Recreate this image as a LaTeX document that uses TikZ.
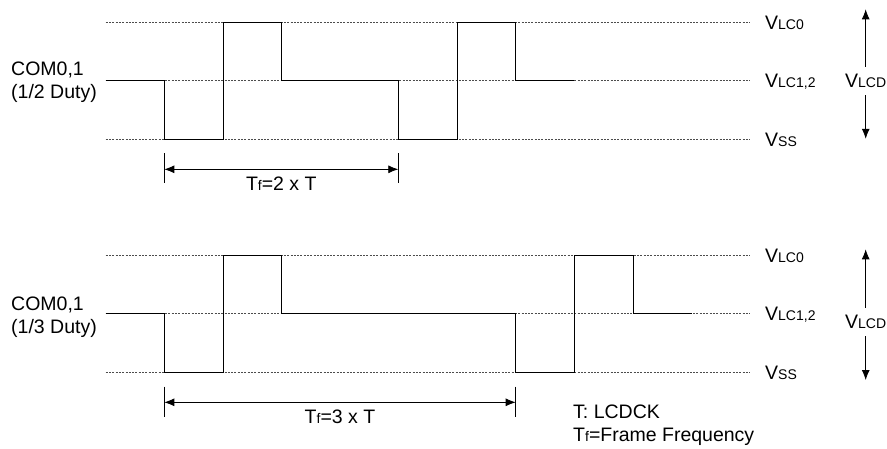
\documentclass[tikz,border=0pt]{standalone}
\usepackage{fontspec}
\setmainfont{Liberation Sans}
\usetikzlibrary{arrows.meta}
\newcommand{\lowtxt}[1]{{\fontsize{14}{14}\selectfont #1}}

\begin{document}
\begin{tikzpicture}[x=1pt,y=-1pt,font=\fontsize{19.5}{23.3}\selectfont]
\definecolor{sqsqsq}{rgb}{0.3,0.3,0.3}
\definecolor{qqqqqq}{rgb}{0,0,0}
\tikzset{
  level/.style={line width=0.7pt,color=sqsqsq,dash pattern=on 2pt off 1.3pt},
  wave/.style={line width=1pt,color=qqqqqq},
  dimline/.style={line width=0.8pt,color=qqqqqq},
  dimarrow/.style={line width=0.8pt,color=qqqqqq,{Latex[length=10pt,width=8pt]}-{Latex[length=10pt,width=8pt]}},
  vlcdarrow/.style={line width=0.8pt,color=qqqqqq,-{Latex[length=10pt,width=8pt]}},
  lvlname/.style={anchor=base west,inner sep=0pt},
  vlcdname/.style={inner xsep=0pt,inner ysep=7.5pt}
}
\useasboundingbox (0,0) rectangle (887,448);
% upper panel: 1/2 duty
\draw [level] (105.7,22.7)-- (750,22.7);
\draw [level] (105.7,80.7)-- (750,80.7);
\draw [level] (105.7,139.3)-- (750,139.3);
\draw [wave] (105.7,80.7)-- (164.3,80.7)-- (164.3,139.3)-- (223,139.3)-- (223,22.7)-- (281.7,22.7)-- (281.7,80.7)-- (398.3,80.7)-- (398.3,139.3)-- (457,139.3)-- (457,22.7)-- (515.7,22.7)-- (515.7,80.7)-- (574.3,80.7);
\node [anchor=west,align=left,inner sep=0pt] (coma) at (11,82) {COM0,1\\(1/2 Duty)};
\node [lvlname] (vlc0a) at (765,29.6) {V\lowtxt{LC0}};
\node [lvlname] (vlc12a) at (765,87.6) {V\lowtxt{LC1,2}};
\node [lvlname] (vssa) at (765,146.2) {V\lowtxt{SS}};
\node [vlcdname] (vlcda) at (865.7,81) {V\lowtxt{LCD}};
\coordinate (vtopa) at (865.7,9.3);
\coordinate (vbota) at (865.7,138.8);
\draw [vlcdarrow] (vlcda)-- (vtopa);
\draw [vlcdarrow] (vlcda)-- (vbota);
\draw [dimline] (164.3,153)-- (164.3,183.3);
\draw [dimline] (398.3,153)-- (398.3,183.3);
\coordinate (tfla) at (164.3,169.3);
\coordinate (tfra) at (398.3,169.3);
\draw [dimarrow] (tfla)-- (tfra);
\node [anchor=base,inner sep=0pt] (tfa) at (281.3,190) {T\lowtxt{f}=2 x T};
% lower panel: 1/3 duty
\draw [level] (105.7,255.7)-- (750,255.7);
\draw [level] (105.7,313.7)-- (750,313.7);
\draw [level] (105.7,372.3)-- (750,372.3);
\draw [wave] (105.7,313.7)-- (164.3,313.7)-- (164.3,372.3)-- (223,372.3)-- (223,255.7)-- (281.7,255.7)-- (281.7,313.7)-- (515.7,313.7)-- (515.7,372.3)-- (574.3,372.3)-- (574.3,255.7)-- (633,255.7)-- (633,313.7)-- (691.7,313.7);
\node [anchor=west,align=left,inner sep=0pt] (comb) at (11,317) {COM0,1\\(1/3 Duty)};
\node [lvlname] (vlc0b) at (765,262.6) {V\lowtxt{LC0}};
\node [lvlname] (vlc12b) at (765,320.6) {V\lowtxt{LC1,2}};
\node [lvlname] (vssb) at (765,379.2) {V\lowtxt{SS}};
\node [vlcdname] (vlcdb) at (865.7,322) {V\lowtxt{LCD}};
\coordinate (vtopb) at (865.7,249.3);
\coordinate (vbotb) at (865.7,380);
\draw [vlcdarrow] (vlcdb)-- (vtopb);
\draw [vlcdarrow] (vlcdb)-- (vbotb);
\draw [dimline] (164.3,386.7)-- (164.3,416.7);
\draw [dimline] (515.7,386.7)-- (515.7,416.7);
\coordinate (tflb) at (164.3,402.3);
\coordinate (tfrb) at (515.7,402.3);
\draw [dimarrow] (tflb)-- (tfrb);
\node [anchor=base,inner sep=0pt] (tfb) at (340,423) {T\lowtxt{f}=3 x T};
% notes
\node [anchor=base west,inner sep=0pt] (notet) at (573,418.5) {T: LCDCK};
\node [anchor=base west,inner sep=0pt] (notetf) at (573,441) {T\lowtxt{f}=Frame Frequency};
\end{tikzpicture}
\end{document}
